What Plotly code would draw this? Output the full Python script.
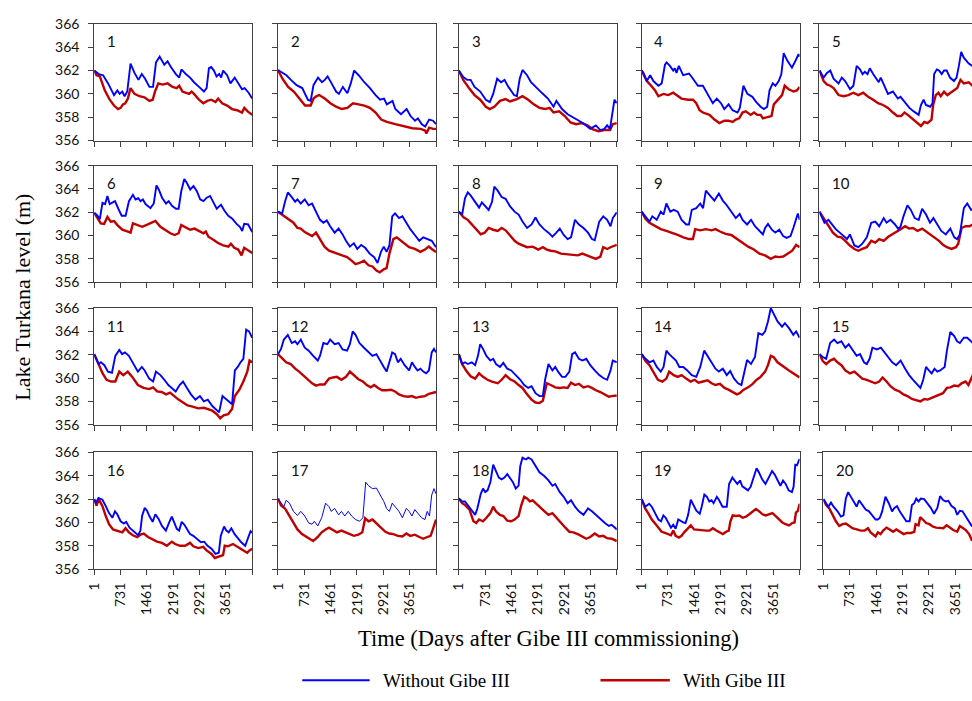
import plotly.graph_objects as go

# ---------------- data (day, lake level m) ----------------
DAY_TICKS = [1, 731, 1461, 2191, 2921, 3651, 4381]
DAY_TICK_TEXT = ["1", "731", "1461", "2191", "2921", "3651", ""]
LEVEL_TICKS = [356, 358, 360, 362, 364, 366]
SERIES_NAMES = ["Without Gibe III", "With Gibe III"]
PANEL_LABELS = [str(i) for i in range(1, 21)]

P01_WITHOUT = [(1,362.0),(128,361.7),(248,361.6),(385,360.9),(550,359.9),(642,360.3),(706,360.0),(780,360.2),(843,359.8),(917,360.2),(1008,362.6),(1118,361.8),(1228,361.2),(1320,361.7),(1412,361.3),(1531,360.6),(1632,360.6),(1714,362.7),(1815,363.2),(1898,362.7),(1943,362.5),(2035,362.8),(2126,362.3),(2264,361.7),(2356,361.4),(2420,362.1),(2539,361.7),(2658,361.4),(2768,361.0),(2906,360.6),(3043,360.2),(3117,360.5),(3181,362.2),(3245,362.3),(3319,362.0),(3392,361.5),(3465,361.7),(3520,361.4),(3575,362.0),(3685,361.6),(3777,360.9),(3896,361.4),(4006,360.9),(4098,360.4),(4171,360.5),(4281,360.1),(4381,359.6)]
P01_WITH = [(1,362.0),(65,361.6),(157,361.5),(294,360.3),(431,359.5),(550,359.0),(660,358.7),(734,358.8),(798,359.1),(862,359.2),(935,359.6),(1008,360.5),(1118,360.0),(1256,359.8),(1393,359.7),(1531,359.4),(1622,359.5),(1686,360.2),(1778,360.9),(1898,360.8),(2035,360.9),(2172,360.6),(2291,360.5),(2356,360.7),(2447,360.2),(2630,360.0),(2700,360.2),(2768,360.0),(2906,359.5),(3025,359.2),(3135,359.4),(3245,359.5),(3364,359.3),(3437,359.6),(3547,359.2),(3685,359.0),(3822,358.7),(3960,358.6),(4098,358.4),(4162,358.8),(4254,358.5),(4381,358.2)]

P02_WITHOUT = [(1,362.05),(235,361.6),(360,361.2),(516,360.75),(673,360.5),(829,359.5),(907,359.4),(985,360.75),(1110,361.4),(1220,361.0),(1298,361.2),(1376,361.5),(1486,360.9),(1611,360.2),(1689,360.0),(1799,360.6),(1924,360.05),(2018,360.9),(2112,362.0),(2237,361.6),(2393,361.0),(2549,360.5),(2706,359.9),(2831,359.5),(2940,359.6),(3018,359.1),(3175,359.4),(3253,358.7),(3410,358.25),(3566,358.7),(3675,358.1),(3800,357.7),(3879,357.9),(3988,357.4),(4082,357.2),(4191,357.8),(4300,357.7),(4381,357.4)]
P02_WITH = [(1,362.05),(125,361.3),(282,360.6),(438,360.2),(595,359.6),(751,359.0),(907,359.0),(985,359.6),(1063,359.8),(1142,359.9),(1298,359.6),(1454,359.2),(1611,358.9),(1767,358.7),(1924,358.8),(2080,359.2),(2237,359.1),(2393,359.0),(2549,358.8),(2706,358.4),(2862,357.8),(3018,357.6),(3253,357.4),(3488,357.2),(3722,357.05),(3957,357.0),(4082,356.85),(4113,356.6),(4191,357.1),(4300,357.0),(4381,357.0)]

P03_WITHOUT = [(1,362.0),(125,361.45),(235,361.2),(328,361.2),(438,360.6),(595,360.2),(751,359.5),(860,359.3),(954,360.0),(1063,361.3),(1173,361.0),(1267,361.2),(1376,360.6),(1533,359.9),(1611,359.8),(1689,361.3),(1767,362.05),(1893,361.6),(2002,361.0),(2158,360.5),(2315,360.05),(2471,359.6),(2627,358.9),(2706,359.4),(2862,358.7),(3018,358.25),(3175,358.0),(3331,357.7),(3488,357.4),(3644,357.0),(3800,357.3),(3925,356.9),(4035,357.0),(4113,357.3),(4191,357.0),(4269,358.8),(4316,359.5),(4381,359.2)]
P03_WITH = [(1,362.0),(125,361.2),(282,360.5),(438,359.9),(595,359.5),(751,358.9),(860,358.7),(985,358.9),(1142,359.4),(1298,359.55),(1423,359.35),(1611,359.55),(1767,359.8),(1924,359.5),(2080,359.1),(2237,358.8),(2393,358.7),(2518,358.8),(2627,358.4),(2784,358.5),(2940,358.1),(3097,357.55),(3253,357.4),(3410,357.5),(3566,357.3),(3722,356.95),(3879,356.8),(4035,356.9),(4191,356.9),(4269,357.4),(4381,357.5)]

P04_WITHOUT = [(1,362.0),(55,361.8),(146,361.1),(238,361.6),(329,361.1),(466,360.7),(558,360.9),(649,362.5),(695,362.7),(786,362.4),(878,362.0),(923,362.2),(969,361.8),(1033,362.4),(1152,361.6),(1316,361.75),(1426,361.3),(1563,360.7),(1700,360.7),(1837,360.0),(1974,359.2),(2084,359.6),(2203,359.2),(2294,358.7),(2413,359.1),(2523,358.6),(2660,358.4),(2724,358.8),(2824,360.7),(2934,360.0),(3071,359.75),(3181,359.3),(3300,358.9),(3391,358.7),(3483,358.9),(3547,360.3),(3638,360.9),(3711,360.7),(3802,361.1),(3875,361.7),(3940,363.5),(4031,362.9),(4168,362.25),(4260,362.8),(4351,363.4),(4381,363.2)]
P04_WITH = [(1,362.0),(146,361.1),(238,360.8),(375,360.3),(466,359.8),(603,360.0),(741,359.9),(878,360.1),(969,359.9),(1106,359.6),(1289,359.5),(1426,359.5),(1517,359.2),(1609,358.6),(1700,358.4),(1883,358.2),(2020,357.8),(2157,357.5),(2294,357.7),(2413,357.7),(2523,357.6),(2614,357.8),(2706,357.9),(2797,358.4),(2888,358.5),(3025,358.2),(3117,358.4),(3208,358.2),(3300,358.2),(3364,357.9),(3483,358.0),(3602,358.1),(3666,359.1),(3802,359.6),(3894,359.9),(3967,360.7),(4077,360.4),(4214,360.2),(4305,360.3),(4381,360.6)]

P05_WITHOUT = [(1,362.0),(119,361.4),(210,361.8),(302,362.0),(393,361.3),(530,360.9),(622,361.4),(713,361.1),(850,360.4),(942,360.7),(1033,362.4),(1124,362.1),(1197,361.7),(1261,361.9),(1334,361.7),(1398,362.2),(1490,361.7),(1581,361.3),(1645,361.0),(1700,361.4),(1791,360.7),(1901,360.0),(2038,360.2),(2102,359.9),(2175,359.6),(2248,359.75),(2358,359.3),(2495,358.8),(2614,358.5),(2751,358.2),(2815,359.05),(2888,359.5),(2952,359.05),(3071,358.9),(3135,359.2),(3181,361.7),(3254,362.1),(3318,362.0),(3391,361.7),(3455,362.0),(3528,362.0),(3619,361.4),(3729,361.1),(3802,361.4),(3866,362.4),(3930,363.6),(4003,363.1),(4140,362.6),(4241,362.4),(4381,362.2)]
P05_WITH = [(1,362.0),(119,361.1),(210,360.8),(302,360.7),(393,360.5),(530,359.9),(667,359.8),(804,359.9),(942,360.1),(1079,359.9),(1216,360.1),(1353,359.75),(1490,359.5),(1627,359.2),(1764,359.05),(1901,358.8),(2038,358.4),(2157,358.1),(2267,358.1),(2358,358.4),(2450,358.2),(2559,357.9),(2651,357.7),(2770,357.4),(2815,357.25),(2907,357.6),(2998,357.5),(3108,357.8),(3153,359.05),(3226,359.9),(3300,360.1),(3364,359.8),(3455,360.2),(3546,359.9),(3638,360.1),(3729,360.3),(3821,360.5),(3912,361.2),(4003,360.9),(4140,361.0),(4241,360.7),(4381,360.6)]

P06_WITHOUT = [(1,361.95),(92,361.7),(156,361.4),(230,362.8),(303,362.7),(367,363.4),(431,362.7),(505,362.8),(578,362.95),(670,362.3),(762,361.7),(872,361.7),(964,362.95),(1074,363.5),(1147,363.1),(1221,363.2),(1285,362.95),(1349,363.1),(1423,362.7),(1561,362.35),(1652,362.75),(1726,364.3),(1790,363.95),(1882,363.25),(1992,362.75),(2066,362.95),(2157,362.55),(2267,362.3),(2341,362.3),(2414,363.8),(2497,364.85),(2570,364.5),(2662,363.95),(2754,364.25),(2846,363.8),(2938,363.1),(3029,362.95),(3121,363.25),(3213,363.4),(3305,362.85),(3397,362.3),(3516,362.65),(3608,362.15),(3718,361.7),(3828,361.45),(3947,361.0),(4039,360.75),(4103,360.4),(4158,361.0),(4268,360.95),(4314,360.7),(4381,360.3)]
P06_WITH = [(1,361.95),(92,361.45),(184,361.05),(275,361.0),(367,361.6),(459,361.2),(551,361.25),(643,360.9),(780,360.5),(918,360.35),(1010,360.25),(1074,361.05),(1193,360.9),(1331,360.75),(1442,360.9),(1561,361.05),(1698,361.25),(1836,360.75),(1974,360.45),(2111,360.2),(2231,360.05),(2341,360.2),(2414,360.9),(2525,360.75),(2662,360.5),(2781,360.6),(2892,360.45),(3029,360.2),(3094,360.35),(3167,359.9),(3305,359.65),(3443,359.35),(3580,359.15),(3718,359.05),(3791,359.3),(3883,358.95),(3993,358.8),(4085,358.3),(4158,358.95),(4250,358.75),(4381,358.5)]

P07_WITHOUT = [(1,362.05),(117,361.9),(195,362.9),(274,363.7),(383,363.3),(477,362.9),(540,363.1),(633,362.75),(743,363.1),(852,362.6),(946,362.75),(1056,362.1),(1165,361.35),(1259,361.1),(1353,361.3),(1447,360.8),(1572,360.25),(1681,360.6),(1791,360.1),(1885,359.55),(1994,359.05),(2104,359.35),(2198,358.85),(2307,359.2),(2417,358.95),(2542,358.45),(2667,358.15),(2761,357.65),(2855,358.6),(2933,359.05),(3011,358.6),(3089,359.15),(3167,361.65),(3246,361.9),(3355,361.5),(3449,361.65),(3558,361.1),(3668,360.55),(3793,360.05),(3918,359.55),(4028,359.85),(4137,359.7),(4262,359.55),(4381,359.0)]
P07_WITH = [(1,362.05),(117,361.8),(274,361.45),(430,361.1),(540,360.65),(633,360.6),(743,360.3),(852,360.15),(946,359.95),(1056,360.25),(1165,359.7),(1290,359.05),(1415,358.7),(1603,358.5),(1760,358.3),(1916,358.15),(2041,357.85),(2151,357.55),(2260,357.65),(2385,357.85),(2510,357.45),(2620,357.35),(2729,357.0),(2823,356.85),(2933,357.1),(3011,357.2),(3089,358.45),(3199,359.7),(3292,359.85),(3402,359.6),(3511,359.35),(3636,359.0),(3793,358.85),(3949,358.6),(4075,358.8),(4184,359.05),(4262,358.85),(4381,358.6)]

P08_WITHOUT = [(1,362.05),(94,361.8),(172,363.2),(250,363.7),(328,363.45),(454,362.9),(563,362.4),(641,362.85),(719,362.6),(829,362.2),(923,362.9),(985,364.2),(1079,363.85),(1189,363.3),(1298,363.15),(1423,362.5),(1548,362.05),(1658,361.8),(1767,361.2),(1893,360.65),(2018,360.95),(2127,361.55),(2237,360.95),(2362,360.55),(2487,360.25),(2596,359.9),(2706,360.25),(2800,360.6),(2909,360.05),(3018,359.7),(3112,359.85),(3222,361.35),(3331,360.95),(3457,360.65),(3582,360.25),(3691,359.7),(3769,359.6),(3894,361.2),(4004,361.65),(4113,361.35),(4207,360.8),(4269,361.5),(4381,362.0)]
P08_WITH = [(1,362.05),(141,361.55),(250,361.35),(360,360.95),(485,360.55),(610,360.1),(719,360.25),(829,360.65),(954,360.5),(1079,360.4),(1189,360.65),(1298,360.45),(1423,360.0),(1548,359.55),(1658,359.3),(1767,359.15),(1893,359.0),(2049,359.05),(2205,358.8),(2330,359.0),(2440,358.8),(2549,358.7),(2675,358.65),(2831,358.45),(2987,358.4),(3144,358.4),(3300,358.3),(3425,358.45),(3535,358.3),(3691,358.15),(3800,358.0),(3925,358.2),(4004,359.0),(4113,358.85),(4207,359.0),(4381,359.2)]

P09_WITHOUT = [(1,362.05),(110,361.6),(219,361.2),(297,361.65),(422,361.35),(532,362.05),(610,361.8),(688,362.75),(798,362.05),(892,362.2),(1001,362.05),(1110,361.35),(1236,360.95),(1314,360.95),(1392,362.2),(1517,362.35),(1627,362.75),(1705,362.35),(1783,363.85),(1893,363.45),(2018,363.0),(2143,363.6),(2252,363.0),(2362,362.6),(2487,362.05),(2612,361.5),(2721,361.85),(2800,361.35),(2925,360.95),(3034,361.35),(3144,360.8),(3269,360.4),(3363,360.1),(3425,360.65),(3504,361.0),(3613,360.5),(3707,360.25),(3816,360.5),(3926,359.95),(4019,359.8),(4129,359.95),(4207,360.65),(4332,361.9),(4381,361.35)]
P09_WITH = [(1,362.05),(110,361.45),(219,361.1),(375,360.8),(532,360.55),(688,360.4),(845,360.25),(1001,360.05),(1157,359.85),(1314,359.7),(1423,359.7),(1486,360.55),(1627,360.45),(1783,360.55),(1940,360.45),(2049,360.55),(2174,360.35),(2330,360.15),(2487,360.05),(2643,359.7),(2800,359.35),(2956,359.05),(3112,358.8),(3269,358.45),(3425,358.3),(3582,358.0),(3707,358.2),(3816,358.15),(3926,358.2),(4051,358.45),(4176,358.7),(4285,359.2),(4381,359.0)]

P10_WITHOUT = [(1,362.05),(141,361.1),(250,361.35),(344,360.95),(454,360.55),(563,360.25),(688,359.95),(766,359.7),(845,360.1),(970,359.15),(1079,359.0),(1189,359.3),(1314,359.85),(1439,361.1),(1548,361.2),(1658,360.8),(1783,361.5),(1861,361.1),(1971,361.35),(2096,360.95),(2190,360.55),(2252,360.8),(2330,361.65),(2440,362.6),(2534,362.2),(2643,361.5),(2753,361.35),(2847,362.3),(2956,361.8),(3066,361.1),(3159,361.5),(3269,360.95),(3378,360.4),(3504,360.1),(3629,360.6),(3738,359.85),(3816,359.7),(3894,360.1),(4004,362.35),(4098,362.75),(4207,362.2),(4254,362.3),(4381,362.1)]
P10_WITH = [(1,362.05),(141,361.35),(250,360.8),(375,360.25),(500,359.9),(610,359.85),(719,359.55),(845,359.15),(970,358.85),(1079,358.7),(1189,358.85),(1314,359.0),(1439,359.55),(1548,359.4),(1658,359.7),(1783,359.55),(1908,359.9),(2018,360.1),(2127,360.25),(2252,360.55),(2377,360.8),(2487,360.6),(2596,360.65),(2721,360.4),(2847,360.6),(2956,360.35),(3066,360.1),(3191,359.85),(3316,359.55),(3425,359.2),(3535,359.0),(3660,358.85),(3785,359.0),(3848,359.3),(3941,360.65),(4051,360.8),(4160,360.8),(4254,360.95),(4381,360.8)]

P11_WITHOUT = [(1,362.05),(125,361.2),(188,361.35),(282,361.1),(383,360.55),(493,360.45),(586,361.9),(696,362.4),(774,362.05),(852,362.2),(962,361.9),(1087,361.2),(1212,360.55),(1321,360.95),(1400,360.65),(1525,359.95),(1634,359.7),(1712,360.55),(1837,360.25),(1947,359.85),(2056,359.4),(2150,359.15),(2260,358.85),(2369,359.4),(2463,359.7),(2572,359.15),(2682,358.6),(2807,358.15),(2932,358.45),(3041,358.0),(3150,358.15),(3275,357.6),(3400,357.2),(3463,357.05),(3557,358.45),(3666,358.15),(3744,357.9),(3822,357.75),(3900,360.65),(3979,360.95),(4057,361.35),(4135,361.65),(4213,364.15),(4291,364.0),(4381,363.45)]
P11_WITH = [(1,362.05),(125,361.2),(235,360.4),(344,359.85),(469,359.7),(586,359.7),(696,360.55),(806,360.25),(931,360.55),(1056,360.1),(1212,359.4),(1368,359.15),(1525,359.05),(1634,359.2),(1744,358.85),(1869,358.8),(1994,358.6),(2103,358.75),(2213,358.45),(2338,358.15),(2463,357.9),(2588,357.65),(2729,357.55),(2885,357.4),(3041,357.45),(3150,357.35),(3275,357.2),(3400,356.9),(3494,356.55),(3588,356.8),(3713,356.9),(3822,357.35),(3900,358.45),(4025,359.0),(4135,359.7),(4244,360.55),(4307,361.5),(4381,361.35)]

P12_WITHOUT = [(1,362.05),(86,362.5),(164,363.3),(274,363.7),(383,363.0),(477,363.15),(540,362.9),(633,363.3),(743,362.6),(852,362.35),(977,361.9),(1103,361.5),(1165,361.9),(1259,363.0),(1368,362.9),(1447,363.3),(1572,362.9),(1681,363.0),(1791,362.45),(1916,362.35),(1994,362.9),(2072,364.0),(2151,363.7),(2260,363.0),(2385,362.6),(2510,362.2),(2620,361.9),(2729,362.05),(2823,361.5),(2933,360.95),(3011,360.55),(3089,361.5),(3167,362.2),(3246,362.05),(3324,361.35),(3402,361.65),(3511,361.1),(3636,360.65),(3715,361.35),(3793,360.95),(3871,360.65),(3949,360.8),(4028,360.55),(4106,360.4),(4184,360.65),(4262,362.2),(4325,362.5),(4381,362.2)]
P12_WITH = [(1,362.05),(117,361.65),(227,361.35),(352,361.2),(477,360.8),(587,360.55),(696,360.25),(821,359.9),(946,359.55),(1056,359.35),(1165,359.45),(1290,359.45),(1415,359.95),(1525,360.05),(1634,360.1),(1760,359.85),(1885,360.1),(1994,360.55),(2104,360.25),(2229,359.9),(2354,359.7),(2463,359.4),(2573,359.2),(2667,359.4),(2776,359.15),(2886,358.95),(3011,358.95),(3136,359.0),(3246,358.85),(3355,358.6),(3480,358.45),(3605,358.4),(3715,358.45),(3824,358.3),(3949,358.4),(4075,358.45),(4184,358.65),(4293,358.7),(4381,358.8)]

P13_WITHOUT = [(1,362.05),(94,361.2),(172,361.35),(250,361.2),(360,361.35),(454,361.1),(532,361.9),(594,362.9),(672,362.5),(766,361.9),(876,361.5),(954,361.65),(1032,361.2),(1142,360.95),(1236,361.3),(1345,360.8),(1454,360.65),(1580,360.25),(1705,359.85),(1814,359.4),(1924,359.15),(2018,359.3),(2127,358.7),(2237,358.45),(2330,358.45),(2393,359.85),(2487,361.2),(2596,360.65),(2675,360.95),(2753,360.55),(2862,360.1),(2956,360.1),(3066,360.55),(3144,362.05),(3222,362.2),(3331,361.65),(3425,361.5),(3535,361.65),(3644,361.1),(3769,360.65),(3894,360.25),(4004,360.0),(4113,359.85),(4207,360.65),(4269,361.5),(4381,361.35)]
P13_WITH = [(1,362.05),(94,361.2),(203,360.65),(328,360.15),(454,359.95),(563,360.4),(672,360.1),(797,359.85),(923,359.7),(1079,359.55),(1189,359.85),(1298,360.25),(1423,359.9),(1548,359.7),(1658,359.4),(1767,359.15),(1893,358.6),(2018,358.15),(2127,357.9),(2237,357.85),(2330,358.05),(2440,359.55),(2549,359.4),(2675,359.2),(2800,359.15),(2909,359.2),(3018,359.15),(3112,359.6),(3222,359.4),(3331,359.5),(3457,359.2),(3582,359.3),(3691,359.15),(3800,358.95),(3925,358.8),(4051,358.6),(4160,358.4),(4238,358.45),(4381,358.5)]

P14_WITHOUT = [(1,362.05),(110,361.65),(219,361.35),(328,361.5),(422,360.95),(532,360.55),(610,360.95),(688,362.35),(766,362.05),(845,361.8),(954,361.5),(1048,360.95),(1157,360.95),(1267,360.65),(1392,360.25),(1517,360.1),(1627,360.95),(1736,362.35),(1830,361.9),(1940,361.35),(2049,360.8),(2143,360.55),(2252,360.8),(2362,360.25),(2456,360.6),(2565,359.95),(2675,359.55),(2768,359.4),(2831,360.25),(2925,361.55),(3034,361.2),(3144,361.8),(3238,363.85),(3347,363.7),(3425,364.0),(3504,364.85),(3582,366.0),(3660,365.5),(3769,364.85),(3894,364.4),(3972,364.7),(4082,364.3),(4207,363.7),(4285,364.0),(4381,363.45)]
P14_WITH = [(1,362.05),(110,361.45),(219,361.1),(328,360.55),(453,359.85),(579,359.7),(688,359.95),(766,360.55),(892,360.25),(1001,360.1),(1110,360.25),(1236,359.95),(1361,359.7),(1470,359.85),(1580,359.6),(1705,359.7),(1830,359.8),(1940,359.55),(2049,359.4),(2174,359.5),(2299,359.15),(2409,359.0),(2518,358.8),(2643,358.6),(2721,358.7),(2831,359.0),(2956,359.2),(3081,359.5),(3191,359.85),(3300,360.1),(3425,360.55),(3504,361.1),(3582,361.9),(3660,361.8),(3769,361.35),(3894,361.1),(4019,360.8),(4129,360.55),(4238,360.35),(4381,360.05)]

P15_WITHOUT = [(1,362.05),(94,361.8),(188,361.65),(297,363.0),(407,363.3),(500,363.0),(610,363.15),(719,362.6),(813,362.9),(923,362.45),(1032,361.9),(1126,362.05),(1236,361.35),(1314,361.2),(1392,361.65),(1470,362.6),(1595,362.45),(1705,362.6),(1814,362.2),(1908,361.8),(2018,361.35),(2127,361.1),(2252,361.5),(2377,360.8),(2487,360.25),(2596,359.85),(2721,359.4),(2800,359.15),(2878,359.85),(2956,360.95),(3034,360.65),(3112,360.4),(3191,360.8),(3269,360.55),(3347,360.65),(3472,360.95),(3535,362.35),(3629,363.95),(3738,363.6),(3816,363.15),(3894,363.0),(4004,363.45),(4098,363.45),(4254,363.0),(4381,362.8)]
P15_WITH = [(1,362.05),(94,361.45),(188,361.2),(297,361.5),(407,361.65),(500,361.35),(610,361.1),(719,360.65),(845,360.4),(970,360.55),(1079,360.25),(1189,359.95),(1314,359.85),(1439,359.7),(1548,359.55),(1658,359.7),(1752,360.05),(1861,359.7),(1971,359.3),(2096,359.0),(2221,358.85),(2330,358.6),(2440,358.45),(2565,358.2),(2690,358.1),(2800,358.0),(2909,358.2),(3003,358.15),(3112,358.3),(3222,358.45),(3316,358.6),(3425,358.7),(3535,359.15),(3629,359.2),(3738,359.35),(3848,359.3),(3941,359.55),(4051,359.7),(4129,359.4),(4254,360.25),(4381,360.0)]

P16_WITHOUT = [(1,362.0),(46,361.65),(119,362.1),(229,361.95),(321,361.4),(412,360.8),(504,360.4),(577,360.95),(641,360.7),(733,360.1),(824,359.9),(888,360.05),(980,359.55),(1072,359.3),(1145,359.15),(1218,358.9),(1282,359.3),(1328,360.55),(1401,361.25),(1466,361.0),(1530,360.55),(1621,360.05),(1695,360.7),(1786,360.3),(1878,359.7),(1988,359.3),(2079,360.0),(2153,360.5),(2226,359.95),(2290,359.45),(2354,359.3),(2427,360.05),(2501,359.8),(2565,359.45),(2657,359.0),(2748,358.85),(2867,358.5),(2959,358.3),(3051,358.35),(3142,358.0),(3252,357.75),(3362,357.3),(3454,357.4),(3509,358.85),(3600,359.65),(3664,359.3),(3729,359.15),(3802,359.5),(3893,359.0),(3985,358.6),(4077,358.3),(4186,358.0),(4260,358.7),(4333,359.25),(4381,359.1)]
P16_WITH = [(1,362.0),(65,361.45),(130,362.0),(229,361.4),(321,360.55),(412,359.85),(522,359.4),(641,359.3),(779,359.15),(870,359.5),(962,359.15),(1072,358.9),(1191,358.75),(1282,358.95),(1374,359.05),(1493,358.75),(1603,358.55),(1740,358.35),(1878,358.25),(2015,358.0),(2153,358.35),(2244,358.15),(2382,358.0),(2519,358.0),(2657,358.25),(2748,357.95),(2886,357.8),(3023,357.9),(3115,357.6),(3252,357.3),(3344,356.95),(3454,357.05),(3573,357.2),(3619,358.0),(3710,357.95),(3848,358.15),(3985,357.9),(4122,357.6),(4241,357.4),(4306,357.6),(4381,357.75)]

P17_WITHOUT = [(1,362.05),(86,361.65),(164,361.35),(227,361.9),(321,361.65),(430,360.95),(540,360.6),(633,360.95),(743,360.55),(852,359.95),(946,359.85),(1009,360.1),(1103,359.7),(1212,360.4),(1321,361.65),(1415,361.35),(1478,360.95),(1572,361.2),(1681,360.65),(1760,360.95),(1853,360.55),(1947,360.95),(2041,360.55),(2151,360.25),(2260,360.1),(2354,360.4),(2432,363.45),(2510,363.15),(2620,362.9),(2729,362.95),(2823,362.45),(2933,361.8),(3011,361.2),(3089,360.95),(3167,361.65),(3246,361.35),(3355,360.95),(3449,360.4),(3558,361.2),(3636,360.95),(3715,360.55),(3793,361.1),(3871,360.8),(3980,360.4),(4075,360.25),(4137,360.95),(4200,360.55),(4262,362.35),(4325,362.9),(4381,362.45)]
P17_WITH = [(1,362.05),(86,361.45),(195,361.2),(321,360.55),(430,360.0),(540,359.4),(665,359.0),(790,358.75),(899,358.6),(977,358.4),(1103,358.75),(1212,359.15),(1321,359.4),(1415,359.55),(1525,359.35),(1634,359.15),(1760,359.3),(1885,359.15),(1994,359.0),(2104,358.85),(2229,358.95),(2338,359.15),(2417,360.35),(2510,360.1),(2620,360.25),(2729,359.9),(2854,359.55),(2979,359.2),(3089,359.05),(3199,359.0),(3324,358.85),(3449,358.8),(3558,359.05),(3668,358.85),(3793,358.95),(3918,358.75),(4028,358.6),(4137,358.75),(4231,358.85),(4293,359.4),(4381,360.25)]

P18_WITHOUT = [(1,362.05),(94,361.8),(172,361.8),(250,361.5),(360,361.1),(454,360.65),(516,361.2),(610,362.45),(672,362.9),(735,362.6),(798,362.75),(876,363.45),(954,364.95),(1032,364.4),(1110,363.85),(1189,363.7),(1267,363.85),(1345,364.15),(1423,363.85),(1501,363.45),(1580,362.9),(1658,363.15),(1705,364.85),(1767,365.55),(1861,365.4),(1924,365.55),(2018,365.4),(2127,364.85),(2237,364.3),(2362,364.0),(2487,363.6),(2596,363.15),(2675,363.3),(2800,362.6),(2909,362.2),(3018,361.65),(3112,361.9),(3222,361.35),(3331,360.95),(3457,360.65),(3582,361.2),(3691,360.95),(3800,360.65),(3925,360.25),(4051,359.95),(4160,359.7),(4238,359.8),(4381,359.4)]
P18_WITH = [(1,362.05),(94,361.65),(172,361.5),(297,361.1),(407,360.1),(485,359.95),(563,360.25),(672,360.1),(766,360.4),(876,360.8),(954,361.35),(1032,360.95),(1142,360.65),(1236,360.55),(1345,360.15),(1454,360.1),(1548,360.25),(1658,360.55),(1736,361.5),(1814,362.2),(1893,362.05),(1971,361.8),(2049,361.9),(2127,361.65),(2237,361.35),(2362,361.0),(2487,360.65),(2596,360.8),(2706,360.4),(2831,359.95),(2956,359.55),(3066,359.2),(3175,359.15),(3300,359.0),(3425,358.8),(3535,358.6),(3644,358.75),(3769,359.05),(3894,358.8),(4004,358.85),(4113,358.65),(4238,358.6),(4381,358.4)]

P19_WITHOUT = [(1,362.0),(101,361.35),(211,361.6),(284,361.35),(375,360.8),(467,360.25),(540,360.1),(605,360.6),(669,360.4),(742,360.0),(815,359.55),(879,359.8),(944,359.45),(1017,360.25),(1090,360.1),(1154,360.0),(1218,359.95),(1291,360.65),(1365,361.95),(1429,361.6),(1520,361.0),(1612,360.75),(1667,361.35),(1740,362.4),(1813,362.2),(1877,361.8),(1941,361.9),(1996,361.65),(2087,362.2),(2151,361.9),(2243,361.35),(2362,361.35),(2426,363.3),(2518,363.85),(2582,363.6),(2655,363.3),(2729,363.6),(2793,363.1),(2885,362.9),(2949,362.75),(3023,363.05),(3114,364.0),(3188,364.65),(3252,364.3),(3343,363.7),(3435,363.3),(3527,363.85),(3618,364.4),(3691,364.1),(3774,363.6),(3848,363.15),(3921,363.6),(3994,363.3),(4077,362.75),(4168,362.6),(4214,363.05),(4260,364.95),(4306,364.9),(4381,365.45)]
P19_WITH = [(1,362.0),(101,361.2),(192,360.75),(284,360.25),(375,359.9),(467,359.55),(558,359.2),(650,359.1),(742,359.0),(815,358.9),(879,359.3),(944,358.85),(1035,358.7),(1108,358.85),(1182,359.15),(1291,359.55),(1365,359.75),(1456,359.4),(1566,359.35),(1704,359.35),(1795,359.3),(1887,359.3),(1978,359.5),(2070,359.3),(2161,359.15),(2253,359.0),(2344,359.2),(2417,359.3),(2463,360.1),(2527,360.6),(2619,360.55),(2710,360.6),(2802,360.4),(2894,360.5),(2985,360.7),(3077,360.95),(3169,361.15),(3261,360.95),(3352,360.7),(3444,360.6),(3536,360.7),(3627,360.8),(3719,360.55),(3810,360.3),(3902,360.0),(3994,359.85),(4086,359.75),(4177,359.95),(4241,360.0),(4278,360.85),(4333,361.0),(4381,361.6)]

P20_WITHOUT = [(1,362.0),(73,361.65),(137,361.35),(211,361.7),(284,361.35),(394,360.95),(485,360.5),(559,360.6),(623,362.05),(687,362.6),(760,362.2),(852,361.65),(925,361.35),(989,361.9),(1081,361.5),(1172,361.1),(1264,360.95),(1356,360.6),(1447,360.25),(1511,360.25),(1566,360.4),(1630,360.95),(1722,362.2),(1813,361.65),(1905,360.95),(1969,361.25),(2043,361.4),(2116,360.95),(2226,360.5),(2299,360.1),(2391,360.1),(2455,361.5),(2519,361.65),(2574,362.05),(2638,361.8),(2702,362.05),(2794,362.0),(2885,361.65),(2977,361.25),(3069,360.75),(3160,361.25),(3234,362.25),(3325,361.9),(3399,361.8),(3463,361.85),(3554,361.4),(3646,361.2),(3710,360.65),(3783,361.0),(3856,360.95),(3920,360.65),(4012,360.25),(4113,359.7),(4381,359.3)]
P20_WITH = [(1,362.0),(73,361.5),(165,361.2),(257,360.65),(348,360.1),(440,359.7),(531,359.85),(623,359.9),(715,359.7),(806,359.5),(925,359.4),(1035,359.3),(1145,359.3),(1237,359.5),(1310,359.15),(1383,359.0),(1447,358.8),(1511,359.15),(1585,359.0),(1658,359.3),(1750,359.55),(1841,359.4),(1933,359.2),(2024,359.4),(2116,359.2),(2226,359.0),(2318,359.1),(2427,359.1),(2519,359.2),(2556,359.85),(2638,359.75),(2684,360.45),(2757,360.25),(2849,359.95),(2940,359.85),(3032,359.65),(3124,359.55),(3234,359.55),(3325,359.5),(3417,359.75),(3509,359.55),(3600,359.35),(3710,359.2),(3783,359.7),(3856,359.55),(3948,359.35),(4039,359.0),(4113,358.5),(4381,358.3)]

PANELS = [
    (P01_WITHOUT, P01_WITH), (P02_WITHOUT, P02_WITH), (P03_WITHOUT, P03_WITH), (P04_WITHOUT, P04_WITH), (P05_WITHOUT, P05_WITH),
    (P06_WITHOUT, P06_WITH), (P07_WITHOUT, P07_WITH), (P08_WITHOUT, P08_WITH), (P09_WITHOUT, P09_WITH), (P10_WITHOUT, P10_WITH),
    (P11_WITHOUT, P11_WITH), (P12_WITHOUT, P12_WITH), (P13_WITHOUT, P13_WITH), (P14_WITHOUT, P14_WITH), (P15_WITHOUT, P15_WITH),
    (P16_WITHOUT, P16_WITH), (P17_WITHOUT, P17_WITH), (P18_WITHOUT, P18_WITH), (P19_WITHOUT, P19_WITH), (P20_WITHOUT, P20_WITH),
]

# ---------------- layout geometry (pixels) ----------------
W, H = 972, 701
COL_LEFT = [86, 271.5, 454, 638.5, 818]
ROW_TOP = [15.3, 160.5, 306.5, 454.5]
PW, PH = 159.5, 119.5
LEFT_OVERRIDE = {19: 822.0}  # panel 20 slightly shifted
BLUE = "#0000FF"
RED = "#C00000"
FRAME = "#404040"
TICK_FONT = dict(family="Lato, Carlito, sans-serif", size=14, color="#111111")
SERIF = "Liberation Serif, Times New Roman, serif"

fig = go.Figure()
layout = dict(
    width=W, height=H,
    margin=dict(l=0, r=0, t=0, b=0),
    paper_bgcolor="white", plot_bgcolor="white",
    showlegend=False,
    annotations=[], shapes=[],
)

for k, (without, withg) in enumerate(PANELS):
    r, c = divmod(k, 5)
    left = LEFT_OVERRIDE.get(k, COL_LEFT[c])
    top = ROW_TOP[r]
    right = left + PW
    xmax = 4381
    if right > W:
        xmax = 1 + (W - left) / PW * 4380
        right = W
    xd = [left / W, right / W]
    yd = [1 - (top + PH) / H, 1 - top / H]
    sx = "" if k == 0 else str(k + 1)
    xa, ya = "x" + sx, "y" + sx

    for pts, col, wd in ((withg, RED, 2.4), (without, BLUE, 1.0 if k == 16 else 1.9)):
        fig.add_trace(go.Scatter(
            x=[p[0] for p in pts], y=[p[1] for p in pts], mode="lines",
            line=dict(color=col, width=wd), xaxis=xa, yaxis=ya,
            hoverinfo="skip", showlegend=False,
        ))

    layout["xaxis" + sx] = dict(
        domain=xd, anchor=ya, range=[1, xmax], showgrid=False, zeroline=False,
        showline=True, linecolor=FRAME, linewidth=1, mirror=True,
        ticks="outside", ticklen=5, tickcolor=FRAME, tickwidth=1,
        tickvals=DAY_TICKS, ticktext=DAY_TICK_TEXT, tickangle=-90,
        showticklabels=(r == 3), tickfont=TICK_FONT, ticklabelstandoff=2,
        fixedrange=True,
    )
    layout["yaxis" + sx] = dict(
        domain=yd, anchor=xa, range=[356, 366], showgrid=False, zeroline=False,
        showline=True, linecolor=FRAME, linewidth=1, mirror=(c != 4),
        ticks="outside", ticklen=5, tickcolor=FRAME, tickwidth=1,
        tickvals=LEVEL_TICKS, showticklabels=(c == 0), tickfont=TICK_FONT,
        ticklabelstandoff=6, fixedrange=True,
    )
    layout["annotations"].append(dict(
        text=PANEL_LABELS[k], xref="paper", yref="paper",
        x=(left + 11) / W, y=1 - (top + 18) / H, xanchor="left", yanchor="middle",
        showarrow=False, font=dict(family="Lato, sans-serif", size=15, color="#111"),
    ))

# axis titles
layout["annotations"].append(dict(
    text="Lake Turkana level (m)", xref="paper", yref="paper", x=14 / W, y=1 - 295 / H,
    textangle=-90, showarrow=False, xanchor="center", yanchor="middle",
    font=dict(family=SERIF, size=22, color="black"),
))
layout["annotations"].append(dict(
    text="Time (Days after Gibe III commissioning)", xref="paper", yref="paper",
    x=545 / W, y=1 - 645 / H, showarrow=False, xanchor="center", yanchor="middle",
    font=dict(family=SERIF, size=22.5, color="black"),
))

# legend (drawn manually to match long line samples)
LEG_Y = 688
for (x0, x1, col, wd, tx, name) in ((296, 364, BLUE, 2, 375, SERIES_NAMES[0]),
                                    (597, 667, RED, 2.5, 678, SERIES_NAMES[1])):
    layout["shapes"].append(dict(type="line", xref="paper", yref="paper",
                                 x0=x0 / W, x1=x1 / W, y0=1 - LEG_Y / H, y1=1 - LEG_Y / H,
                                 line=dict(color=col, width=wd)))
    layout["annotations"].append(dict(
        text=name, xref="paper", yref="paper", x=tx / W, y=1 - LEG_Y / H,
        xanchor="left", yanchor="middle", showarrow=False,
        font=dict(family=SERIF, size=19, color="black"),
    ))

fig.update_layout(**layout)
fig.write_html("out.html")
